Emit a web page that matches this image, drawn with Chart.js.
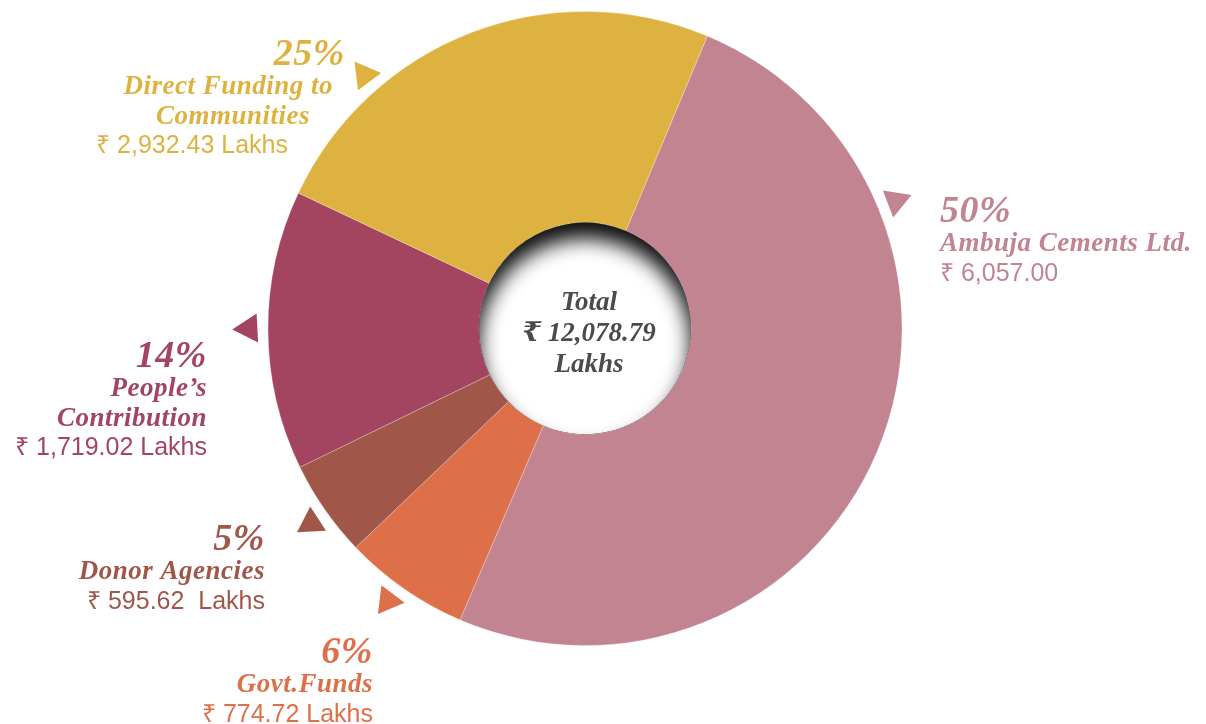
<!DOCTYPE html>
<html>
<head>
<meta charset="utf-8">
<title>Sources of funds</title>
<script src="https://cdn.jsdelivr.net/npm/chart.js@4.4.1/dist/chart.umd.min.js"></script>
<style>
	html, body { margin: 0; padding: 0; background: #fff; }
	#wrap { width: 1206px; height: 724px; position: relative; }
</style>
</head>
<body>
<div id="wrap"><canvas id="funds-chart"></canvas></div>
<script>
// values, clockwise from the top-right
const categories = [
	['Ambuja Cements Ltd.'],
	['Govt.Funds'],
	['Donor Agencies'],
	['People\u2019s', 'Contribution'],
	['Direct Funding to', 'Communities']
];
const amounts = [6057.00, 774.72, 595.62, 1719.02, 2932.43];
const percentLabels = ['50%', '6%', '5%', '14%', '25%'];
const amountUnits = ['', ' Lakhs', '  Lakhs', ' Lakhs', ' Lakhs'];
const colors = ['#C18490', '#DD7049', '#A0574A', '#A34561', '#DEB241'];

// label placement, relative to the ring centre (dx, dy of first baseline)
const labelLayout = [
	{ dx: 355, dy: -107, align: 'left', indent: [0, 0, 0], marker: 67.7, tip: 99 },
	{ dx: -212, dy: 334, align: 'right', indent: [0, 0, 0], marker: 215.9, tip: 7 },
	{ dx: -320, dy: 221, align: 'right', indent: [0, 0, 0], marker: 234.6, tip: -93 },
	{ dx: -378, dy: 38, align: 'right', indent: [0, 0, 0, 0], marker: 270, tip: 177 },
	{ dx: -240, dy: -264, align: 'right', indent: [0, -12, -35, -57], marker: 319, tip: -7 }
];

(function() {
	'use strict';

	const SERIF = '"Liberation Serif", "DejaVu Serif", serif';
	const SANS = '"Liberation Sans", Arial, sans-serif';
	const LINE = 29.5;

	function fmt(v) {
		return v.toLocaleString('en-US', { minimumFractionDigits: 2, maximumFractionDigits: 2 });
	}

	function drawTriangle(ctx, x, y, dirDeg, side, color) {
		const r = side / Math.sqrt(3);
		const a = dirDeg * Math.PI / 180;
		ctx.beginPath();
		for (let i = 0; i < 3; i++) {
			const t = a + i * 2 * Math.PI / 3;
			const px = x + Math.cos(t) * r;
			const py = y + Math.sin(t) * r;
			if (i === 0) ctx.moveTo(px, py); else ctx.lineTo(px, py);
		}
		ctx.closePath();
		ctx.fillStyle = color;
		ctx.fill();
	}

	const ringDecor = {
		id: 'ringDecor',
		afterDatasetsDraw(chart) {
			const ctx = chart.ctx;
			const arc = chart.getDatasetMeta(0).data[0];
			const { x: cx, y: cy, innerRadius, outerRadius } =
				arc.getProps(['x', 'y', 'innerRadius', 'outerRadius'], true);

			// inset shadow in the hole, heavy at the top
			ctx.save();
			ctx.beginPath();
			ctx.arc(cx, cy, innerRadius, 0, Math.PI * 2);
			ctx.clip();
			ctx.beginPath();
			ctx.arc(cx, cy, innerRadius + 80, 0, Math.PI * 2);
			ctx.arc(cx, cy, innerRadius, 0, Math.PI * 2, true);
			ctx.shadowColor = 'rgba(0,0,0,0.95)';
			ctx.shadowBlur = 20;
			ctx.shadowOffsetY = 16;
			ctx.fillStyle = '#000';
			ctx.fill();
			ctx.restore();

			// centre total
			const total = amounts.reduce((s, v) => s + v, 0);
			ctx.save();
			ctx.fillStyle = '#4b4b4b';
			ctx.textAlign = 'center';
			ctx.textBaseline = 'alphabetic';
			ctx.font = 'bold italic 27px ' + SERIF;
			ctx.letterSpacing = '0px';
			ctx.fillText('Total', cx + 4, cy - 19);
			ctx.fillText('\u20B9 ' + fmt(total), cx + 4, cy + 12);
			ctx.fillText('Lakhs', cx + 4, cy + 43);
			ctx.restore();

			// markers and labels
			labelLayout.forEach((lay, i) => {
				const color = colors[i];
				const ang = lay.marker * Math.PI / 180;
				const md = outerRadius + 19;
				drawTriangle(ctx, cx + Math.sin(ang) * md, cy - Math.cos(ang) * md, lay.tip, 29, color);

				const lines = [
					{ text: percentLabels[i], font: 'bold italic 38px ' + SERIF, ls: '0.5px' }
				];
				categories[i].forEach(t => lines.push({ text: t, font: 'bold italic 27px ' + SERIF, ls: '0.5px' }));
				lines.push({ text: '\u20B9 ' + fmt(amounts[i]) + amountUnits[i], font: '25px ' + SANS, ls: '0px' });

				ctx.save();
				ctx.fillStyle = color;
				ctx.textAlign = lay.align;
				ctx.textBaseline = 'alphabetic';
				lines.forEach((ln, k) => {
					ctx.font = ln.font;
					ctx.letterSpacing = ln.ls;
					ctx.fillText(ln.text, cx + lay.dx + (lay.indent[k] || 0), cy + lay.dy + k * LINE);
				});
				ctx.restore();
			});
		}
	};

	new Chart(document.getElementById('funds-chart'), {
		type: 'doughnut',
		data: {
			labels: categories,
			datasets: [{
				data: amounts,
				backgroundColor: colors,
				borderColor: 'rgba(255,255,255,0.25)',
				borderWidth: 1
			}]
		},
		options: {
			responsive: true,
			maintainAspectRatio: false,
			animation: false,
			rotation: 22.7,
			cutout: '33.4%',
			layout: { padding: { top: 11, bottom: 78, left: 0, right: 36 } },
			plugins: { legend: { display: false }, tooltip: { enabled: false } }
		},
		plugins: [ringDecor]
	});
})();
</script>
</body>
</html>
